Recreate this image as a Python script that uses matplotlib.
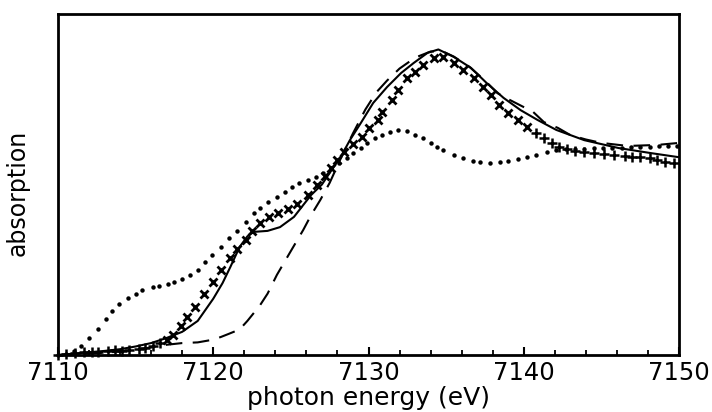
import numpy as np
import matplotlib
matplotlib.use("Agg")
import matplotlib.pyplot as plt
from matplotlib.ticker import MultipleLocator

# ---- data (normalised absorption) ----
solid_e = [7110, 7111, 7112, 7113, 7114, 7115, 7116, 7117, 7118, 7119, 7120,
           7120.6, 7121.1, 7121.7, 7122.2, 7122.6, 7123.5, 7124.3, 7125.2,
           7125.8, 7126.3, 7127, 7127.5, 7128.2, 7128.8, 7129.5, 7130.3,
           7131.2, 7132.1, 7132.9, 7133.8, 7134.5, 7135.5, 7136.6, 7137.6,
           7138.7, 7139.8, 7140.9, 7142.1, 7143.9, 7146.1, 7148.2, 7150]
solid_a = [0.0, 0.004, 0.008, 0.012, 0.017, 0.025, 0.035, 0.05, 0.068, 0.1, 0.165,
           0.211, 0.258, 0.317, 0.348, 0.361, 0.364, 0.375, 0.405,
           0.44, 0.469, 0.5, 0.534, 0.58, 0.63, 0.68, 0.739,
           0.786, 0.827, 0.856, 0.886, 0.896, 0.874, 0.842, 0.798,
           0.754, 0.718, 0.689, 0.66, 0.63, 0.607, 0.592, 0.58]

dash_e = [7110, 7112, 7114, 7116, 7117, 7118, 7119, 7120, 7120.5, 7121, 7121.7,
          7122.2, 7123, 7123.5, 7124.1, 7125, 7125.8, 7126.3, 7126.9, 7127.5,
          7128.2, 7129, 7129.8, 7130.5, 7131.2, 7132, 7133, 7134, 7134.8,
          7135.5, 7136.5, 7137.5, 7138.3, 7139.1, 7140, 7140.6, 7141.3, 7142.2,
          7143, 7144, 7145, 7146.7, 7148.6, 7150]
dash_a = [0.0, 0.004, 0.01, 0.022, 0.03, 0.035, 0.037, 0.045, 0.053, 0.062, 0.075,
          0.1, 0.145, 0.18, 0.235, 0.305, 0.367, 0.41, 0.455, 0.505,
          0.575, 0.65, 0.72, 0.77, 0.805, 0.84, 0.872, 0.89, 0.89,
          0.875, 0.845, 0.805, 0.768, 0.748, 0.727, 0.713, 0.683, 0.666,
          0.645, 0.632, 0.622, 0.613, 0.616, 0.622]

cross_e = [7110.0, 7110.5, 7111.1, 7111.7, 7112.2, 7112.6, 7113.2, 7113.7, 7114.1,
           7114.6, 7115.2, 7115.6, 7116.1, 7116.6, 7117.0, 7117.4, 7117.9, 7118.3,
           7118.8, 7119.4, 7120.0, 7120.5, 7121.1, 7121.5, 7122.1, 7122.5, 7123.0,
           7123.6, 7124.2, 7124.8, 7125.4, 7126.1, 7126.7, 7127.2, 7127.6, 7128.0,
           7128.4, 7129.0, 7129.6, 7130.0, 7130.6, 7130.9, 7131.5, 7131.9, 7132.5,
           7133.0, 7133.5, 7134.2, 7134.8, 7135.5, 7136.1, 7136.8, 7137.4, 7137.9,
           7138.4, 7139.0, 7139.6, 7140.2, 7140.8, 7141.3, 7141.8, 7142.3, 7142.8,
           7143.3, 7143.9, 7144.5, 7145.2, 7145.8, 7146.5, 7147.0, 7147.5, 7148.1,
           7148.6, 7149.1, 7149.7]
cross_a = [0.0, 0.003, 0.007, 0.008, 0.009, 0.009, 0.012, 0.014, 0.013,
           0.015, 0.018, 0.021, 0.026, 0.035, 0.045, 0.06, 0.085, 0.11,
           0.14, 0.179, 0.214, 0.249, 0.284, 0.311, 0.337, 0.364, 0.387,
           0.405, 0.416, 0.428, 0.443, 0.469, 0.5, 0.525, 0.548, 0.572,
           0.595, 0.62, 0.639, 0.666, 0.689, 0.713, 0.748, 0.777, 0.812,
           0.83, 0.85, 0.872, 0.874, 0.856, 0.836, 0.812, 0.786, 0.762,
           0.733, 0.71, 0.689, 0.669, 0.651, 0.636, 0.622, 0.61, 0.603,
           0.598, 0.595, 0.592, 0.589, 0.587, 0.584, 0.58, 0.58, 0.578,
           0.572, 0.566, 0.563]

dot_e = [7110.0, 7110.5, 7111.0, 7111.5, 7112.0, 7112.6, 7113.1, 7113.5, 7113.9,
         7114.5, 7115.0, 7115.4, 7116.1, 7116.5, 7117.1, 7117.5, 7118.0, 7118.5,
         7119.0, 7119.5, 7119.9, 7120.5, 7121.0, 7121.5, 7122.1, 7122.6, 7123.0,
         7123.5, 7124.1, 7124.6, 7125.1, 7125.5, 7126.1, 7126.6, 7127.1, 7127.6,
         7128.1, 7128.6, 7129.0, 7129.5, 7129.9, 7130.4, 7130.9, 7131.4, 7131.9,
         7132.5, 7133.0, 7133.5, 7134.0, 7134.4, 7134.8, 7135.5, 7136.1, 7136.7,
         7137.2, 7137.8, 7138.5, 7139.0, 7139.6, 7140.2, 7140.8, 7141.5, 7142.1,
         7142.7, 7143.3, 7143.9, 7144.5, 7145.1, 7145.7, 7146.3, 7146.9, 7147.5,
         7148.1, 7148.7, 7149.3, 7149.9]
dot_a = [0.0, 0.004, 0.012, 0.026, 0.05, 0.076, 0.106, 0.129, 0.15,
         0.167, 0.179, 0.19, 0.2, 0.202, 0.208, 0.214, 0.223, 0.235,
         0.249, 0.273, 0.293, 0.317, 0.343, 0.364, 0.39, 0.416, 0.431,
         0.449, 0.463, 0.478, 0.493, 0.504, 0.513, 0.522, 0.535, 0.548,
         0.563, 0.578, 0.592, 0.607, 0.622, 0.636, 0.645, 0.655, 0.66,
         0.657, 0.645, 0.636, 0.622, 0.61, 0.601, 0.587, 0.578, 0.569,
         0.566, 0.563, 0.566, 0.569, 0.575, 0.58, 0.587, 0.595, 0.602,
         0.604, 0.605, 0.605, 0.606, 0.607, 0.607, 0.608, 0.609, 0.61,
         0.611, 0.612, 0.613, 0.614]

xticks = [7110, 7120, 7130, 7140, 7150]

# ---- figure ----
plt.rcParams['font.family'] = ['DejaVu Sans']
fig = plt.figure(figsize=(7.12, 4.12), dpi=100)
ax = fig.add_axes([58/712, 57/412, 621/712, 341/412])

ax.plot(solid_e, solid_a, color='black', lw=1.5, solid_capstyle='round')
ax.plot(dash_e, dash_a, color='black', lw=1.5, linestyle=(0, (8, 5)))

ce = np.array(cross_e); ca = np.array(cross_a)
mid = (ce > 7116.8) & (ce < 7140.5)
ax.plot(ce[mid], ca[mid], linestyle='none', marker='x', ms=5.5, mew=2.0,
        color='black', clip_on=False)
ax.plot(ce[~mid], ca[~mid], linestyle='none', marker='+', ms=7, mew=1.8,
        color='black', clip_on=False)
ax.plot(dot_e, dot_a, linestyle='none', marker='o', ms=3.2, mew=0,
        color='black', clip_on=False)

ax.set_xlim(7110, 7150)
ax.set_ylim(0, 1)
ax.set_xticks(xticks)
ax.xaxis.set_minor_locator(MultipleLocator(2))
ax.set_yticks([])
ax.tick_params(axis='x', which='major', direction='in', length=6, width=1.5,
               labelsize=17.5, pad=4, top=False)
ax.tick_params(axis='x', which='minor', direction='in', length=3.5, width=1.3,
               top=False)
for s in ax.spines.values():
    s.set_linewidth(2.0)

ax.set_xlabel('photon energy (eV)', fontsize=18)
ax.xaxis.set_label_coords(0.5, -0.092)
ax.xaxis.label.set_va('top')
ax.set_ylabel('absorption', fontsize=17)
ax.yaxis.set_label_coords(-0.045, 0.474)

fig.savefig('out.png', dpi=100)
